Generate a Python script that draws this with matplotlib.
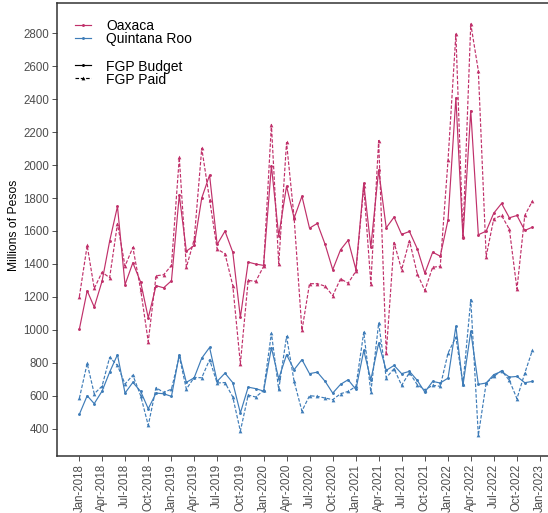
import matplotlib
matplotlib.use('Agg')
import matplotlib.pyplot as plt
import matplotlib.dates as mdates
from matplotlib.lines import Line2D
import pandas as pd
import numpy as np

plt.rcParams['font.family'] = ['Liberation Sans', 'DejaVu Sans']

months = pd.date_range('2018-01-01', periods=60, freq='MS')

oax_budget = [1004, 1237, 1138, 1295, 1538, 1749, 1274, 1407, 1289, 1073, 1268, 1255,
              1298, 1817, 1477, 1512, 1800, 1939, 1518, 1599, 1471, 1075, 1411, 1399,
              1391, 1996, 1570, 1872, 1678, 1811, 1617, 1646, 1518, 1365, 1486, 1544,
              1365, 1890, 1502, 1970, 1619, 1684, 1579, 1597, 1492, 1344, 1471, 1447,
              1668, 2408, 1559, 2330, 1577, 1599, 1708, 1767, 1680, 1694, 1603, 1623]
oax_paid = [1201, 1512, 1251, 1350, 1316, 1644, 1387, 1500, 1243, 928, 1328, 1334,
            1391, 2046, 1380, 1547, 2102, 1791, 1490, 1462, 1269, 794, 1300, 1294,
            1385, 2246, 1400, 2137, 1680, 996, 1280, 1280, 1265, 1207, 1310, 1283,
            1356, 1870, 1280, 2149, 857, 1530, 1365, 1542, 1340, 1239, 1380, 1385,
            2032, 2796, 1570, 2857, 2572, 1445, 1674, 1694, 1610, 1247, 1694, 1781]
qr_budget = [487, 600, 552, 628, 743, 849, 616, 681, 626, 521, 616, 612,
             596, 849, 681, 709, 828, 893, 687, 737, 679, 495, 652, 643,
             628, 891, 703, 849, 758, 819, 734, 743, 687, 616, 669, 697,
             638, 875, 697, 919, 754, 784, 734, 748, 693, 622, 687, 677,
             707, 1021, 663, 990, 669, 677, 728, 748, 713, 717, 679, 687]
qr_paid = [584, 796, 612, 658, 833, 784, 671, 725, 600, 420, 649, 620,
           640, 840, 640, 711, 709, 819, 677, 680, 592, 385, 604, 592,
           632, 980, 638, 960, 687, 507, 600, 596, 586, 576, 612, 626,
           657, 986, 622, 1041, 709, 764, 663, 740, 667, 636, 663, 657,
           859, 956, 670, 1183, 359, 677, 717, 752, 693, 582, 737, 875]

states = ['Oaxaca', 'Quintana Roo']
kinds = ['FGP Budget', 'FGP Paid']
colors = {'Oaxaca': '#C0306A', 'Quintana Roo': '#3E7CB8'}
series = {'Oaxaca': (oax_budget, oax_paid), 'Quintana Roo': (qr_budget, qr_paid)}

W, H = 548, 513
fig = plt.figure(figsize=(W / 100, H / 100), dpi=100)
# axes runs a little past the right edge, like the cropped original
left, right, top, bottom = 56.7, 555, 3.3, 456
ax = fig.add_axes([left / W, (H - bottom) / H, (right - left) / W, (bottom - top) / H])

lw = 0.85
dash = (0, (3.0, 1.5))
styles = {'FGP Budget': dict(ls='-', marker='o', ms=2.1),
          'FGP Paid': dict(ls=dash, marker='^', ms=2.7)}
for st in states:
    b, p = series[st]
    c = colors[st]
    ax.plot(months, b, color=c, lw=lw, mew=0, **styles['FGP Budget'])
    ax.plot(months, p, color=c, lw=lw, mew=0, **styles['FGP Paid'])

# ggplot-like 5% expansion
allv = np.concatenate([oax_budget, oax_paid, qr_budget, qr_paid])
lo, hi = allv.min(), allv.max()
ax.set_ylim(lo - 0.05 * (hi - lo), hi + 0.05 * (hi - lo))
span = months[-1] - months[0]
ax.set_xlim(months[0] - span * 0.05, months[-1] + span * 0.05)

ax.set_yticks(range(400, 2801, 200))
ax.xaxis.set_major_locator(mdates.MonthLocator(bymonth=[1, 4, 7, 10]))
ax.xaxis.set_major_formatter(mdates.DateFormatter('%b-%Y'))
ax.tick_params(axis='x', rotation=90, labelsize=8.3, colors='#333333', labelcolor='#4d4d4d',
               length=3.5, width=0.6, pad=2)
ax.tick_params(axis='y', labelsize=8.3, colors='#333333', labelcolor='#4d4d4d',
               length=3.5, width=0.6, pad=2)
ax.set_ylabel('Millions of Pesos', fontsize=8.7)
ax.yaxis.set_label_coords((20 - left) / (right - left), (bottom - 225) / (bottom - top))

for s in ax.spines.values():
    s.set_linewidth(1.1)
    s.set_color('#333333')

# legend keys drawn by hand (ggplot packs the rows tighter than ax.legend can)
def key(y, label, color, style):
    yy = 1 - y / H
    fig.add_artist(Line2D(np.array([75, 83, 91]) / W, [yy] * 3, color=color, lw=lw,
                          mew=0, markevery=[1], **style))
    fig.text(106 / W, yy, label, fontsize=10, va='center_baseline', color='black')

rows = [24.5, 37.5]
for st, y in zip(states, rows):
    key(y, st, colors[st], styles['FGP Budget'])
rows = [65.2, 78]
for k, y in zip(kinds, rows):
    key(y, k, 'black', styles[k])

fig.savefig('out.png', dpi=100)
